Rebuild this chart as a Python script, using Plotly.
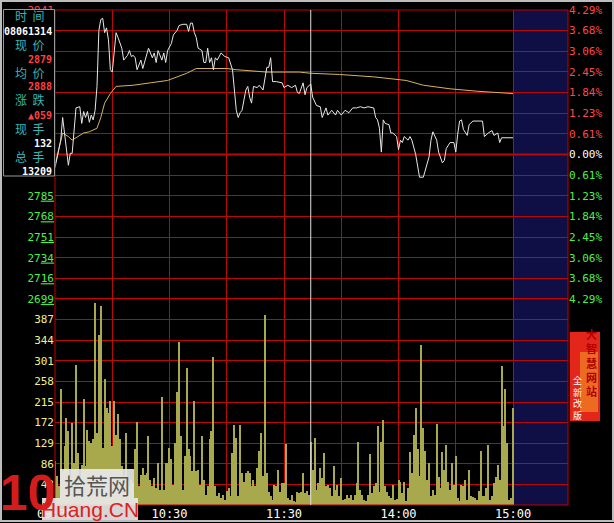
import plotly.graph_objects as go

W, H = 614, 523

# ---------------- data ----------------
PREV_CLOSE = 2820
PCT_STEP = 0.0429 / 7

PRICE_MIN = [0, 3, 4, 5, 7, 8, 9, 11, 13, 14, 15, 16, 17, 18, 19, 20, 21, 22, 23, 24, 25, 26, 27, 28, 29, 30,
             32, 33, 35, 36, 37, 38, 39, 40, 41, 42, 43, 45, 46, 48, 49, 51, 52, 53, 54, 56, 57, 58, 59, 61,
             62, 64, 65, 67, 69, 70, 71, 72, 73, 74, 75, 77, 78, 79, 80, 81, 82, 83, 84, 85, 87, 89, 91, 93,
             94, 95, 96, 97, 98, 100, 101, 102, 103, 104, 106, 107, 109, 110, 111, 112, 113, 114, 116, 119,
             120, 122, 124, 126, 127, 128, 130, 131, 132, 134, 135, 137, 139, 140, 142, 143, 145, 147, 148,
             150, 152, 154, 156, 158, 160, 162, 164, 167, 168, 169, 170, 171, 172, 173, 175, 176, 177, 179,
             180, 181, 182, 183, 185, 186, 187, 189, 190, 191, 193, 195, 196, 197, 198, 200, 201, 203, 204,
             205, 207, 209, 210, 211, 212, 213, 214, 216, 217, 219, 221, 224, 225, 227, 229, 230, 232, 233,
             234, 236, 238, 240]
PRICE = [2809, 2832, 2851, 2838, 2811, 2821, 2821, 2859, 2860, 2846, 2856, 2851, 2856, 2847, 2853, 2849,
         2857, 2877, 2924, 2933, 2934, 2922, 2926, 2916, 2891, 2889,
         2922, 2918, 2909, 2899, 2901, 2903, 2907, 2902, 2903, 2901, 2891, 2899, 2892, 2902, 2909, 2901,
         2905, 2897, 2907, 2899, 2905, 2897, 2907, 2913,
         2920, 2924, 2928, 2929, 2929, 2923, 2930, 2930, 2922, 2918, 2909, 2907, 2897, 2897, 2909, 2897,
         2901, 2891, 2901, 2899, 2905, 2902, 2901, 2891,
         2874, 2857, 2851, 2855, 2857, 2874, 2877, 2868, 2863, 2877, 2876, 2878, 2874, 2882, 2893, 2893,
         2901, 2881, 2881, 2880,
         2876, 2878, 2876, 2878, 2872, 2871, 2880, 2870, 2876, 2879, 2868, 2861, 2860, 2851, 2859, 2853,
         2857, 2853, 2857,
         2853, 2857, 2855, 2859, 2859, 2860, 2859, 2860, 2859, 2851, 2849, 2842, 2822, 2849, 2846, 2845,
         2838, 2838, 2835,
         2824, 2832, 2830, 2835, 2832, 2835, 2832, 2820, 2810, 2801, 2801, 2813, 2818, 2832, 2839, 2832,
         2822, 2813, 2815,
         2825, 2830, 2830, 2822, 2837, 2848, 2849, 2841, 2836, 2845, 2848, 2848, 2848, 2835, 2838, 2840,
         2836, 2838, 2830,
         2834, 2834, 2834, 2834]

AVG_MIN = [0, 4, 7, 9, 15, 18, 22, 24, 26, 29, 32, 41, 50, 59, 64, 69, 74, 80, 90, 95, 111, 128, 134,
           149, 167, 184, 193, 207, 221, 240]
AVG = [2811, 2838, 2835, 2832, 2838, 2839, 2842, 2851, 2863, 2871, 2877, 2878, 2880, 2882, 2885, 2888,
       2892, 2892, 2892, 2891, 2889, 2889, 2888, 2887, 2885, 2882, 2878, 2875, 2873, 2871]

# one bar per minute from 09:30 (index 0) to 15:00 (index 240)
VOLUME = [91, 60, 40, 242, 70, 123, 182, 154, 60, 172,
          88, 293, 109, 50, 84, 221, 81, 156, 133, 130,
          137, 422, 150, 355, 416, 120, 263, 203, 193, 217,
          123, 217, 147, 189, 137, 81, 60, 151, 50, 40,
          53, 45, 116, 174, 40, 63, 77, 63, 67, 144,
          53, 40, 56, 35, 88, 32, 226, 32, 88, 88,
          119, 95, 42, 130, 235, 341, 144, 32, 102, 287,
          116, 102, 70, 217, 70, 74, 42, 144, 53, 21,
          39, 137, 154, 308, 39, 18, 25, 14, 20, 11,
          30, 35, 18, 109, 166, 140, 18, 166, 67, 49,
          67, 70, 67, 39, 53, 39, 77, 112, 151, 60,
          397, 67, 28, 18, 11, 42, 39, 74, 28, 46,
          46, 128, 14, 11, 20, 8, 6, 28, 25, 28,
          67, 25, 30, 21, 132, 74, 140, 32, 46, 77,
          56, 109, 39, 42, 35, 18, 81, 32, 42, 18,
          56, 11, 12, 21, 14, 20, 11, 21, 46, 131,
          32, 20, 11, 8, 21, 107, 25, 40, 46, 165,
          28, 131, 177, 39, 28, 18, 14, 42, 11, 12,
          53, 49, 25, 49, 8, 35, 110, 67, 147, 203,
          116, 60, 334, 161, 113, 53, 88, 18, 32, 21,
          170, 58, 35, 110, 74, 126, 49, 32, 88, 42,
          102, 14, 8, 42, 39, 53, 11, 74, 18, 16,
          14, 11, 30, 113, 18, 18, 35, 126, 11, 18,
          46, 58, 83, 53, 291, 165, 242, 130, 11, 14,
          203]

TIME_TICKS = [0, 30, 60, 90, 120, 150, 180, 210, 240]
TIME_LABELS = ["09:30", "", "10:30", "", "11:30", "", "14:00", "", "15:00"]
PCT_K = [-7, -6, -5, -4, -3, -2, -1, 0, 1, 2, 3, 4, 5, 6, 7]
PCT_TEXT = ["4.29%", "3.68%", "3.06%", "2.45%", "1.84%", "1.23%", "0.61%", "0.00%",
            "0.61%", "1.23%", "1.84%", "2.45%", "3.06%", "3.68%", "4.29%"]
VOL_TICKS = [43, 86, 129, 172, 215, 258, 301, 344, 387]
VOL_MAX = 430
SESSION_END = 240
RIGHT_PAD_END = 268.8
CURSOR_MIN = 134

INFO_ITEMS = [("时  间", "08061314", "#ffffff"),
              ("现  价", "2879", "#ff4040"),
              ("均  价", "2888", "#ff4040"),
              ("涨  跌", "▲059", "#ff4040"),
              ("现  手", "132", "#ffffff"),
              ("总  手", "13209", "#ffffff")]

# ---------------- helpers ----------------
def px(x):
    return x / W


def py(y):
    return 1 - y / H


RED_GRID = "#b80808"
GREEN = "#4cf04c"
UP_RED = "#ff4848"
MONO = "DejaVu Sans Mono"
CJK = "Noto Sans CJK SC"

price_ticks = [PREV_CLOSE * (1 + k * PCT_STEP) for k in PCT_K]


def left_label(v, k):
    # labels between -1 and +6 steps sit under the info box in the original
    if -1 <= k <= 6:
        return ""
    s = str(int(round(v)))
    col = UP_RED if k > 0 else (GREEN if k < 0 else "#ffffff")
    return f"<span style='color:{col}'>{s[:2]}<u>{s[2:]}</u></span>"


def right_label(t, k):
    col = UP_RED if k > 0 else (GREEN if k < 0 else "#ffffff")
    return f"<span style='color:{col}'>{t}</span>"


left_text = [left_label(v, k) for v, k in zip(price_ticks, PCT_K)]
right_text = [right_label(t, k) for t, k in zip(PCT_TEXT, PCT_K)]

fig = go.Figure()

fig.add_trace(go.Bar(x=list(range(len(VOLUME))), y=VOLUME, yaxis="y2", xaxis="x",
                     width=0.55, marker=dict(color="#a8a84c", line=dict(width=0)),
                     hoverinfo="skip", showlegend=False))
fig.add_trace(go.Scatter(x=AVG_MIN, y=AVG, mode="lines", line=dict(color="#d8b45c", width=1),
                         yaxis="y", xaxis="x", hoverinfo="skip", showlegend=False))
fig.add_trace(go.Scatter(x=PRICE_MIN, y=PRICE, mode="lines", line=dict(color="#e8e8e8", width=1),
                         yaxis="y", xaxis="x", hoverinfo="skip", showlegend=False))
fig.add_trace(go.Scatter(x=[0], y=[PREV_CLOSE], mode="markers", marker=dict(opacity=0),
                         yaxis="y3", xaxis="x", hoverinfo="skip", showlegend=False))

x0p, x1p = px(55), px(568)
fig.update_layout(
    width=W, height=H, margin=dict(l=0, r=0, t=0, b=0, autoexpand=False),
    paper_bgcolor="#000000", plot_bgcolor="#000000",
    showlegend=False, bargap=0,
    xaxis=dict(domain=[x0p, x1p], range=[0, RIGHT_PAD_END], anchor="y2", automargin=False,
               tickvals=TIME_TICKS, ticktext=TIME_LABELS, ticks="",
               showgrid=True, gridcolor=RED_GRID, gridwidth=1, zeroline=False,
               tickfont=dict(family=MONO, size=12, color="#ffffff"), showline=False),
    yaxis=dict(domain=[py(299), py(10)], range=[price_ticks[0], price_ticks[-1]], automargin=False,
               anchor="x", side="left", tickvals=price_ticks, ticktext=left_text,
               showgrid=True, gridcolor=RED_GRID, gridwidth=1, zeroline=False, ticks="",
               tickfont=dict(family=MONO, size=11, color=GREEN)),
    yaxis3=dict(overlaying="y", side="right", anchor="x", range=[price_ticks[0], price_ticks[-1]],
                automargin=False, tickvals=price_ticks, ticktext=right_text, showgrid=False,
                zeroline=False, ticks="", tickfont=dict(family=MONO, size=11, color=UP_RED)),
    yaxis2=dict(domain=[py(505), py(299)], range=[0, VOL_MAX], anchor="x", side="left",
                automargin=False, tickvals=VOL_TICKS, showgrid=True, gridcolor=RED_GRID, gridwidth=1,
                zeroline=False, ticks="", tickfont=dict(family=MONO, size=11, color="#f0f08c")),
)

shapes = []
# blue "future" area beyond 15:00
shapes.append(dict(type="rect", xref="x", yref="paper", x0=SESSION_END, x1=RIGHT_PAD_END,
                   y0=py(505), y1=py(10), fillcolor="#0f0f46", line=dict(width=0), layer="below"))
# frame
shapes.append(dict(type="rect", xref="paper", yref="paper", x0=x0p, x1=x1p, y0=py(505), y1=py(10),
                   line=dict(color="#c00000", width=1), layer="above"))
# zero line and panel separator
shapes.append(dict(type="line", xref="paper", yref="y", x0=x0p, x1=x1p, y0=PREV_CLOSE, y1=PREV_CLOSE,
                   line=dict(color="#d00000", width=2), layer="below"))
shapes.append(dict(type="line", xref="paper", yref="y", x0=x0p, x1=x1p,
                   y0=price_ticks[0], y1=price_ticks[0], line=dict(color="#d00000", width=2), layer="above"))
# cursor
shapes.append(dict(type="line", xref="x", yref="paper", x0=CURSOR_MIN, x1=CURSOR_MIN,
                   y0=py(505), y1=py(10), line=dict(color="#e0e0e0", width=1), layer="above"))
# info box
shapes.append(dict(type="rect", xref="paper", yref="paper", x0=px(3.5), x1=px(54.5), y0=py(176),
                   y1=py(9.5), fillcolor="#000000", line=dict(color="#9a9a9a", width=1), layer="above"))
# ad box
shapes.append(dict(type="rect", xref="paper", yref="paper", x0=px(570), x1=px(600), y0=py(421),
                   y1=py(332), fillcolor="#e4261a", line=dict(width=0), layer="above"))
shapes.append(dict(type="rect", xref="paper", yref="paper", x0=px(580), x1=px(598), y0=py(412),
                   y1=py(352), fillcolor="#f49a24", opacity=0.6, line=dict(width=0), layer="above"))
# logo background
shapes.append(dict(type="rect", xref="paper", yref="paper", x0=px(60), x1=px(134), y0=py(498),
                   y1=py(469), fillcolor="rgba(232,232,232,0.92)", line=dict(width=0), layer="above"))
shapes.append(dict(type="rect", xref="paper", yref="paper", x0=px(42), x1=px(138), y0=py(521),
                   y1=py(498), fillcolor="rgba(232,232,232,0.92)", line=dict(width=0), layer="above"))
# window border
shapes.append(dict(type="rect", xref="paper", yref="paper", x0=px(1), x1=px(613), y0=py(521),
                   y1=py(1), line=dict(color="#bdbdbd", width=2), layer="above"))
fig.update_layout(shapes=shapes)

ann = []
# info box texts
yy = 16
for label, value, col in INFO_ITEMS:
    ann.append(dict(x=px(29), y=py(yy), xref="paper", yref="paper", text=label, showarrow=False,
                    font=dict(family=CJK, size=12, color="#30b8b8"), xanchor="center", yanchor="middle"))
    ann.append(dict(x=px(54), y=py(yy + 15), xref="paper", yref="paper", text=f"<b>{value}</b>",
                    showarrow=False, font=dict(family=MONO, size=10, color=col),
                    xanchor="right", yanchor="middle"))
    yy += 28
# ad texts
ann.append(dict(x=px(591), y=py(362), xref="paper", yref="paper",
                text="<b>大<br>智<br>慧<br>网<br>站</b>", showarrow=False,
                font=dict(family=CJK, size=11, color="#b00000"), xanchor="center", yanchor="middle"))
ann.append(dict(x=px(577), y=py(398), xref="paper", yref="paper",
                text="全<br>新<br>改<br>版", showarrow=False,
                font=dict(family=CJK, size=9, color="#ffffff"), xanchor="center", yanchor="middle"))
# watermark
ann.append(dict(x=px(28), y=py(493), xref="paper", yref="paper", text="<b>10</b>",
                showarrow=False, font=dict(family="Liberation Sans", size=50, color="#d41c1c"),
                xanchor="center", yanchor="middle"))
ann.append(dict(x=px(97), y=py(484), xref="paper", yref="paper", text="拾荒网",
                showarrow=False, font=dict(family=CJK, size=22, color="#555555"),
                xanchor="center", yanchor="middle"))
ann.append(dict(x=px(90), y=py(509), xref="paper", yref="paper", text="Huang.CN",
                showarrow=False, font=dict(family="Liberation Sans", size=21, color="#e02020"),
                xanchor="center", yanchor="middle"))
fig.update_layout(annotations=ann)

fig.write_html("out.html", config={"displayModeBar": False},
               post_script="document.body.style.margin='0';document.body.style.overflow='hidden';"
                           "document.body.style.background='#000';")
